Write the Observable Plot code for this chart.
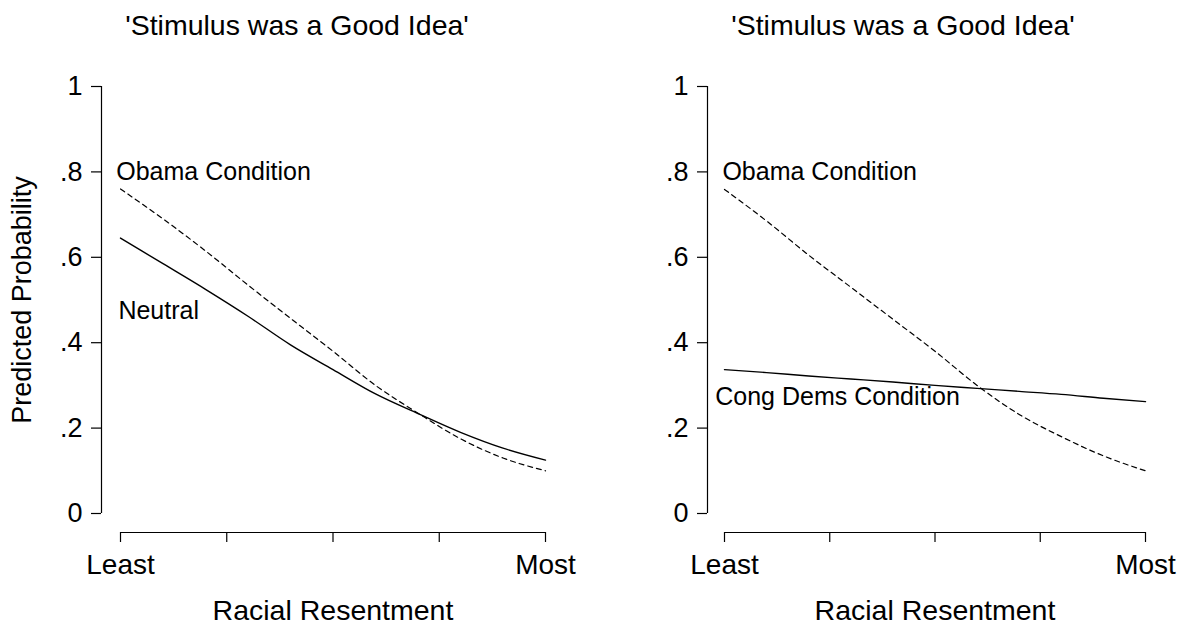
<!DOCTYPE html>
<html>
<head>
<meta charset="utf-8">
<script src="https://cdn.jsdelivr.net/npm/d3@7"></script>
<script src="https://cdn.jsdelivr.net/npm/@observablehq/plot@0.6"></script>
<style>
  html, body { margin: 0; padding: 0; background: white; }
  #row { display: flex; flex-direction: row; width: 1189px; height: 628px; }
</style>
</head>
<body>
<div id="row"></div>
<script>
const title = "'Stimulus was a Good Idea'";
const xTitle = "Racial Resentment";
const yTitle = "Predicted Probability";
const xTicks = [0, 0.25, 0.5, 0.75, 1];
const xTickLabels = ["Least", "", "", "", "Most"];
const yTicks = [0, 0.2, 0.4, 0.6, 0.8, 1];
const yTickLabels = ["0", ".2", ".4", ".6", ".8", "1"];

const resentment = [0, 0.1, 0.2, 0.3, 0.4, 0.5, 0.6, 0.7, 0.8, 0.9, 1];
const leftObama   = [0.760, 0.690, 0.615, 0.535, 0.457, 0.380, 0.300, 0.235, 0.175, 0.130, 0.100];
const leftNeutral = [0.645, 0.585, 0.525, 0.462, 0.395, 0.337, 0.280, 0.234, 0.190, 0.153, 0.125];
const rightObama    = [0.759, 0.685, 0.605, 0.530, 0.455, 0.380, 0.300, 0.232, 0.180, 0.135, 0.100];
const rightCongDems = [0.337, 0.330, 0.322, 0.315, 0.308, 0.300, 0.293, 0.286, 0.279, 0.270, 0.262];

const leftLabels = [
  {text: "Obama Condition", x: -0.01, y: 0.8},
  {text: "Neutral", x: -0.005, y: 0.475}
];
const rightLabels = [
  {text: "Obama Condition", x: -0.005, y: 0.8},
  {text: "Cong Dems Condition", x: -0.022, y: 0.274}
];

const fontFamily = "'Liberation Sans', Arial, Helvetica, sans-serif";
const fmtX = d => xTickLabels[xTicks.indexOf(d)];
const fmtY = d => yTickLabels[yTicks.findIndex(t => Math.abs(t - d) < 1e-9)];

function toRows(xs, ys) { return xs.map((x, i) => ({x, y: ys[i]})); }

function panel({width, marginLeft, marginRight, axisOffset, solid, dashed, labels, showYTitle, titleDx}) {
  const marks = [
    Plot.ruleX([0], {y1: 0, y2: 1, dx: -axisOffset, stroke: "black", strokeWidth: 1.2}),
    Plot.ruleY([0], {x1: 0, x2: 1, dy: 19, stroke: "black", strokeWidth: 1.2}),
    Plot.axisY(yTicks, {tickFormat: fmtY, tickSize: 10, tickPadding: 9, dx: -axisOffset, fontSize: 27, label: null, stroke: "black", strokeWidth: 1.2}),
    Plot.axisX(xTicks, {tickFormat: fmtX, tickSize: 10, tickPadding: 12, dy: 19, fontSize: 28, label: null, stroke: "black", strokeWidth: 1.2}),
    Plot.text([xTitle], {frameAnchor: "bottom", lineAnchor: "middle", dy: 97, fontSize: 28.5}),
    Plot.text([title], {frameAnchor: "top", lineAnchor: "middle", dy: -61, dx: titleDx, fontSize: 28.5}),
    Plot.line(toRows(resentment, dashed), {x: "x", y: "y", stroke: "black", strokeWidth: 1.2, strokeDasharray: "5,4", curve: "monotone-x"}),
    Plot.line(toRows(resentment, solid), {x: "x", y: "y", stroke: "black", strokeWidth: 1.4, curve: "monotone-x"}),
    Plot.text(labels, {x: "x", y: "y", text: "text", textAnchor: "start", lineAnchor: "middle", fontSize: 25})
  ];
  if (showYTitle) {
    marks.push(Plot.text([yTitle], {frameAnchor: "left", textAnchor: "middle", rotate: -90, dx: -98, fontSize: 27}));
  }
  return Plot.plot({
    width, height: 628,
    marginTop: 86, marginBottom: 115, marginLeft, marginRight,
    x: {domain: [0, 1]},
    y: {domain: [0, 1]},
    style: {fontFamily, color: "black", background: "white", overflow: "visible"},
    marks
  });
}

const row = document.getElementById("row");
row.append(panel({width: 594, marginLeft: 120, marginRight: 49, axisOffset: 19,
  solid: leftNeutral, dashed: leftObama, labels: leftLabels, showYTitle: true, titleDx: -36}));
row.append(panel({width: 595, marginLeft: 130, marginRight: 44, axisOffset: 17,
  solid: rightCongDems, dashed: rightObama, labels: rightLabels, showYTitle: false, titleDx: -32}));
</script>
</body>
</html>
